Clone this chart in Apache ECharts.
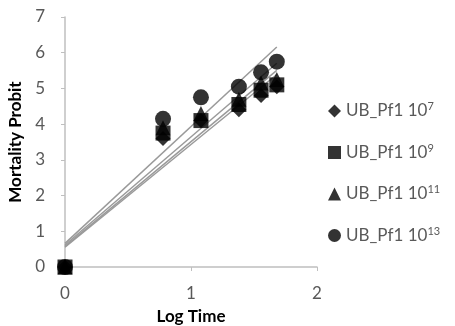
<!DOCTYPE html>
<html>
<head>
<meta charset="utf-8">
<script src="https://cdn.jsdelivr.net/npm/echarts@6/dist/echarts.min.js"></script>
<style>
  html, body { margin: 0; padding: 0; background: #fff; }
  #main { width: 455px; height: 326px; }
</style>
</head>
<body>
<div id="main"></div>
<script>
// log10 of exposure time (0, 6, 12, 24, 36, 48 h)
var logTime = [0, 0.778, 1.079, 1.380, 1.556, 1.681];

var ub107 = [0, 3.6, 4.1, 4.4, 4.8, 5.05];
var ub109 = [0, 3.75, 4.1, 4.55, 4.95, 5.1];
var ub1011 = [0, 3.9, 4.3, 4.7, 5.15, 5.25];
var ub1013 = [0, 4.15, 4.75, 5.05, 5.45, 5.75];

var names = ['UB_Pf1 10^7', 'UB_Pf1 10^9', 'UB_Pf1 10^11', 'UB_Pf1 10^13'];
var xTicks = [0, 1, 2];
var yTicks = [0, 1, 2, 3, 4, 5, 6, 7];

var chartDom = document.getElementById('main');
var myChart = echarts.init(chartDom);

// least squares line, like the Excel trendline
function trend(xs, ys) {
    var n = xs.length, sx = 0, sy = 0, sxx = 0, sxy = 0;
    for (var i = 0; i < n; i++) {
        sx += xs[i]; sy += ys[i];
        sxx += xs[i] * xs[i]; sxy += xs[i] * ys[i];
    }
    var b = (n * sxy - sx * sy) / (n * sxx - sx * sx);
    var a = (sy - b * sx) / n;
    var x0 = xs[0], x1 = xs[n - 1];
    return [[x0, a + b * x0], [x1, a + b * x1]];
}

function pts(ys) {
    return logTime.map(function (x, i) { return [x, ys[i]]; });
}

var sets = [ub107, ub109, ub1011, ub1013];
var symbols = ['diamond', 'rect', 'triangle', 'circle'];
var sizes = [15, 15, 15, 16];

var series = [];
// trendlines first
sets.forEach(function (ys) {
    series.push({
        type: 'line',
        data: trend(logTime, ys),
        symbol: 'none',
        silent: true,
        lineStyle: { color: '#9a9a9a', width: 1.5 },
        z: 1
    });
});
sets.forEach(function (ys, i) {
    series.push({
        name: names[i],
        type: 'scatter',
        data: pts(ys),
        symbol: symbols[i],
        symbolSize: sizes[i],
        clip: false,
        itemStyle: { color: '#000' },
        z: 3
    });
});

var option = {
    animation: false,
    textStyle: { fontFamily: 'Lato' },
    grid: { left: 65, right: 138, top: 17, bottom: 59, containLabel: false, outerBoundsMode: 'none' },
    legend: {
        orient: 'vertical',
        left: 323,
        top: 96,
        itemGap: 23,
        itemWidth: 13,
        itemHeight: 13,
        data: names,
        formatter: function (n) {
            var p = n.split('^');
            return '{a|' + p[0] + '}{s|' + p[1] + '}';
        },
        textStyle: {
            rich: {
                a: { fontSize: 17, color: '#595959', fontFamily: 'Lato', height: 17 },
                s: { fontSize: 11, color: '#595959', fontFamily: 'Lato', padding: [0, 0, 9, 0] }
            }
        }
    },
    xAxis: {
        type: 'value',
        min: 0,
        max: 2,
        interval: 1,
        name: 'Log Time',
        nameLocation: 'middle',
        nameGap: 41,
        nameTextStyle: { fontSize: 17, fontWeight: 'bold', color: '#000', fontFamily: 'Lato' },
        axisLine: { show: true, lineStyle: { color: '#bfbfbf', width: 1.5 } },
        axisTick: { show: true, length: 4, lineStyle: { color: '#bfbfbf' } },
        axisLabel: {
            fontSize: 17, color: '#595959', margin: 18,
            formatter: function (v) { return xTicks.indexOf(v) >= 0 ? String(v) : ''; }
        },
        splitLine: { show: false }
    },
    yAxis: {
        type: 'value',
        min: 0,
        max: 7,
        interval: 1,
        name: 'Mortality Probit',
        nameLocation: 'middle',
        nameGap: 36,
        nameTextStyle: { fontSize: 17, fontWeight: 'bold', color: '#000', fontFamily: 'Lato' },
        axisLine: { show: true, lineStyle: { color: '#bfbfbf', width: 1.5 } },
        axisTick: { show: true, length: 4, lineStyle: { color: '#bfbfbf' } },
        axisLabel: {
            fontSize: 17, color: '#595959', margin: 20,
            formatter: function (v) { return yTicks.indexOf(v) >= 0 ? String(v) : ''; }
        },
        splitLine: { show: false }
    },
    series: series
};

option && myChart.setOption(option);
</script>
</body>
</html>
